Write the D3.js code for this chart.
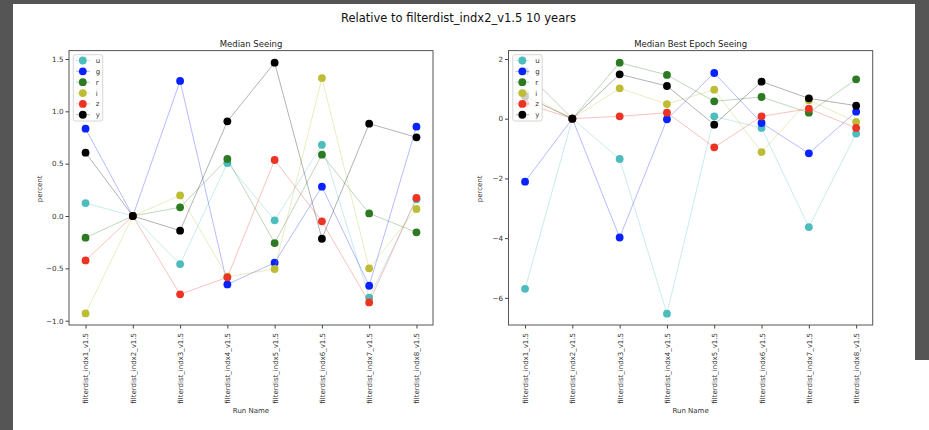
<!DOCTYPE html>
<html>
<head>
<meta charset="utf-8">
<script src="https://cdn.jsdelivr.net/npm/d3@7"></script>
<style>
  html, body { margin: 0; padding: 0; background: #ffffff; overflow: hidden; }
  svg { display: block; }
  text { font-family: "DejaVu Sans", sans-serif; }
</style>
</head>
<body>
<script>
// ---------- data ----------
const runs = ["filterdist_indx1_v1.5", "filterdist_indx2_v1.5", "filterdist_indx3_v1.5", "filterdist_indx4_v1.5",
              "filterdist_indx5_v1.5", "filterdist_indx6_v1.5", "filterdist_indx7_v1.5", "filterdist_indx8_v1.5"];
const filters = ["u", "g", "r", "i", "z", "y"];
const filterColors = ["#4cbcbc", "#0a22ff", "#2c7a22", "#bdbd35", "#ec3424", "#000000"];

// Median Seeing (percent)
const seeingU = [0.124, 0, -0.459, 0.506, -0.041, 0.68, -0.78, 0.16];
const seeingG = [0.834, 0, 1.29, -0.653, -0.446, 0.28, -0.666, 0.853];
const seeingR = [-0.207, 0, 0.083, 0.545, -0.258, 0.586, 0.025, -0.156];
const seeingI = [-0.93, 0, 0.197, -0.58, -0.506, 1.318, -0.5, 0.067];
const seeingZ = [-0.424, 0, -0.748, -0.586, 0.535, -0.051, -0.825, 0.172];
const seeingY = [0.605, 0, -0.14, 0.904, 1.465, -0.217, 0.882, 0.752];

// Median Best Epoch Seeing (percent)
const bestU = [-5.70, 0, -1.35, -6.53, 0.078, -0.31, -3.63, -0.50];
const bestG = [-2.11, 0, -3.98, -0.02, 1.53, -0.145, -1.16, 0.235];
const bestR = [1.58, 0, 1.877, 1.464, 0.58, 0.726, 0.2, 1.318];
const bestI = [0.85, 0, 1.017, 0.49, 0.972, -1.117, 0.62, -0.11];
const bestZ = [0.52, 0, 0.078, 0.2, -0.96, 0.078, 0.335, -0.31];
const bestY = [0.75, 0, 1.486, 1.095, -0.2, 1.24, 0.68, 0.436];

const seeingTicks = [-1.0, -0.5, 0.0, 0.5, 1.0, 1.5];
const bestTicks = [-6, -4, -2, 0, 2];

const mainTitle = "Relative to filterdist_indx2_v1.5 10 years";
const panels = [
  { title: "Median Seeing", series: [seeingU, seeingG, seeingR, seeingI, seeingZ, seeingY],
    domain: [-1.041, 1.58], ticks: seeingTicks, fmt: d => d3.format(".1f")(d).replace("-", "\u2212"),
    x0: 69, x1: 433 },
  { title: "Median Best Epoch Seeing", series: [bestU, bestG, bestR, bestI, bestZ, bestY],
    domain: [-6.91, 2.28], ticks: bestTicks, fmt: d => d3.format("d")(d).replace("-", "\u2212"),
    x0: 508.5, x1: 872.7 }
];

// ---------- drawing ----------
const W = 929, H = 430;
const svg = d3.select("body").append("svg").attr("width", W).attr("height", H);

// dark surroundings
svg.append("rect").attr("x", 0).attr("y", 0).attr("width", W).attr("height", H).attr("fill", "#555555");
svg.append("rect").attr("x", 13).attr("y", 4).attr("width", 902).attr("height", H - 4).attr("fill", "#ffffff");
svg.append("rect").attr("x", 900).attr("y", 360).attr("width", 29).attr("height", 70).attr("fill", "#ffffff");

svg.append("text").attr("x", 458.5).attr("y", 22).attr("text-anchor", "middle")
  .attr("font-size", 11.5).attr("fill", "#111").text(mainTitle);

const plotTop = 50.6, plotBottom = 325;

panels.forEach(p => {
  const g = svg.append("g");
  const x = d3.scalePoint().domain(runs).range([p.x0, p.x1]).padding(0.35);
  const y = d3.scaleLinear().domain(p.domain).range([plotBottom, plotTop]);

  // axes
  const yAxis = d3.axisLeft(y).tickValues(p.ticks).tickFormat(p.fmt).tickSize(3.5).tickPadding(2);
  const gy = g.append("g").attr("transform", `translate(${p.x0},0)`).call(yAxis);
  gy.select(".domain").remove();
  gy.selectAll("line").attr("stroke", "#444");
  gy.selectAll("text").attr("font-size", 7.2).attr("fill", "#333").attr("font-family", "DejaVu Sans");

  const xAxis = d3.axisBottom(x).tickSize(3.5).tickPadding(0);
  const gx = g.append("g").attr("transform", `translate(0,${plotBottom})`).call(xAxis);
  gx.select(".domain").remove();
  gx.selectAll("line").attr("stroke", "#444");
  gx.selectAll("text")
    .attr("font-size", 7).attr("fill", "#333").attr("font-family", "DejaVu Sans")
    .attr("text-anchor", "end")
    .attr("transform", "rotate(-90)")
    .attr("x", -8).attr("y", 0).attr("dy", "0.35em");

  // lines & markers
  const line = d3.line().x((d, i) => x(runs[i])).y(d => y(d));
  p.series.forEach((vals, k) => {
    g.append("path").datum(vals).attr("d", line)
      .attr("fill", "none").attr("stroke", filterColors[k]).attr("stroke-opacity", 0.3).attr("stroke-width", 1);
    g.selectAll(null).data(vals).enter().append("circle")
      .attr("cx", (d, i) => x(runs[i])).attr("cy", d => y(d)).attr("r", 3.9)
      .attr("fill", filterColors[k]);
  });

  // frame
  g.append("rect").attr("x", p.x0).attr("y", plotTop).attr("width", p.x1 - p.x0).attr("height", plotBottom - plotTop)
    .attr("fill", "none").attr("stroke", "#555").attr("stroke-width", 1);

  // titles & labels
  g.append("text").attr("x", (p.x0 + p.x1) / 2).attr("y", 47).attr("text-anchor", "middle")
    .attr("font-size", 8.5).attr("fill", "#222").text(p.title);
  g.append("text").attr("x", (p.x0 + p.x1) / 2).attr("y", 413).attr("text-anchor", "middle")
    .attr("font-size", 7).attr("fill", "#333").text("Run Name");
  g.append("text").attr("transform", `translate(${p.x0 - 27},${(plotTop + plotBottom) / 2 + 1}) rotate(-90)`)
    .attr("text-anchor", "middle").attr("font-size", 7).attr("fill", "#333").text("percent");

  // legend
  const lx = p.x0 + 4.3, ly = 54.7;
  const leg = g.append("g");
  leg.append("rect").attr("x", lx).attr("y", ly).attr("width", 29.4).attr("height", 66.3)
    .attr("rx", 2).attr("fill", "#ffffff").attr("fill-opacity", 0.8)
    .attr("stroke", "#cccccc").attr("stroke-width", 0.8);
  filters.forEach((f, k) => {
    const cy = ly + 5.8 + k * 10.85;
    leg.append("line").attr("x1", lx + 2.8).attr("x2", lx + 16.5).attr("y1", cy).attr("y2", cy)
      .attr("stroke", filterColors[k]).attr("stroke-opacity", 0.3).attr("stroke-width", 1);
    leg.append("circle").attr("cx", lx + 9.5).attr("cy", cy).attr("r", 3.9).attr("fill", filterColors[k]);
    leg.append("text").attr("x", lx + 22.5).attr("y", cy).attr("dy", "0.35em")
      .attr("font-size", 7).attr("fill", "#333").text(f);
  });
});
</script>
</body>
</html>
